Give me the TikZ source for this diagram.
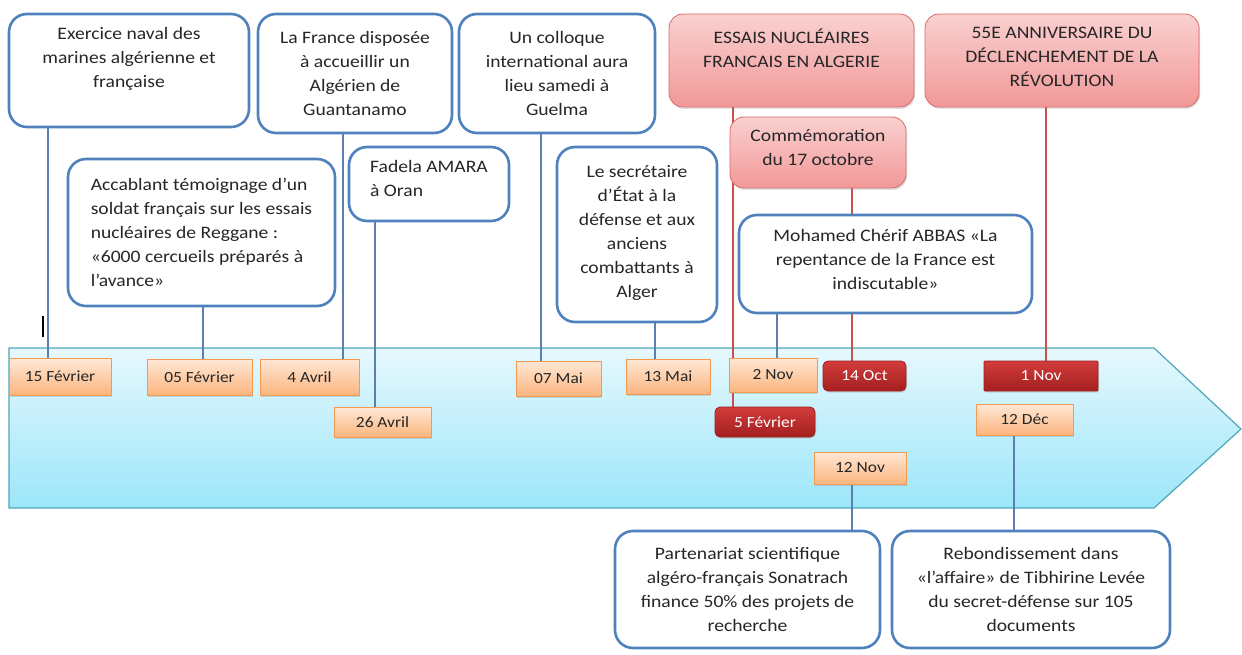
\documentclass[tikz,border=0pt]{standalone}
\usepackage{fontspec}
\setmainfont{Carlito}[FakeStretch=1.12]
\usetikzlibrary{shadows,calc}
\definecolor{bblue}{HTML}{4F81BD}
\definecolor{lblue}{HTML}{5A7FB0}
\definecolor{lred}{HTML}{C8504D}
\definecolor{txt}{HTML}{262626}
\definecolor{rtop}{HTML}{FAD0D0}
\definecolor{rbot}{HTML}{F29898}
\definecolor{rborder}{HTML}{D86A6A}
\definecolor{otop}{HTML}{FFE8D6}
\definecolor{obot}{HTML}{FBB57E}
\definecolor{oborder}{HTML}{F39A52}
\definecolor{drtop}{HTML}{D23C3C}
\definecolor{drbot}{HTML}{A41F1F}
\definecolor{bandtop}{HTML}{E6F8FD}
\definecolor{bandbot}{HTML}{9CE6FA}
\definecolor{bandline}{HTML}{4FA6B8}
\pgfdeclarelayer{bg}\pgfdeclarelayer{ln}
\pgfsetlayers{bg,ln,main}
\begin{document}
\begin{tikzpicture}[x=1pt,y=-1pt,
  bbox/.style={draw=bblue, line width=2.6pt, fill=white, rounded corners=18pt,
    align=center, inner sep=0pt, text=txt, font=\fontsize{17.5}{24}\selectfont},
  rbox/.style={draw=rborder, line width=0.8pt, top color=rtop, bottom color=rbot,
    rounded corners=14pt, align=center, inner sep=0pt, text=txt,
    font=\fontsize{17.5}{24}\selectfont,
    drop shadow={shadow xshift=1pt, shadow yshift=-2pt, opacity=0.25}},
  odate/.style={draw=oborder, line width=0.8pt, top color=otop, bottom color=obot,
    inner sep=0pt, text=txt, font=\fontsize{15.5}{18}\selectfont,
    drop shadow={shadow xshift=1pt, shadow yshift=-1.5pt, opacity=0.25}},
  rdate/.style={draw=drbot, line width=0.8pt, top color=drtop, bottom color=drbot,
    rounded corners=5pt, inner sep=0pt, text=white, font=\fontsize{15.5}{18}\selectfont,
    drop shadow={shadow xshift=1pt, shadow yshift=-1.5pt, opacity=0.25}},
  bl/.style={draw=lblue, line width=1.2pt},
  rl/.style={draw=lred, line width=1.2pt}]
\useasboundingbox (0,0) rectangle (1242,655);
% band
\begin{pgfonlayer}{bg}
\path[draw=bandline, line width=1.2pt, top color=bandtop, bottom color=bandbot]
  (9,348) -- (1154,348) -- (1241,429) -- (1154,508) -- (9,508) -- cycle;
\end{pgfonlayer}
% event boxes
\node[bbox, minimum width=240, minimum height=113] (b1) at (129,70.5)
  {Exercice naval des\\marines algérienne et\\française\\[-6pt]\strut};
\node[bbox, minimum width=194, minimum height=119] (b2) at (355,73.5)
  {La France disposée\\à accueillir un\\Algérien de\\Guantanamo};
\node[bbox, minimum width=267, minimum height=147, align=left] (b3) at (201.5,232.5)
  {Accablant témoignage d’un\\soldat français sur les essais\\nucléaires de Reggane :\\«6000 cercueils préparés à\\l’avance»};
\node[bbox, minimum width=160, minimum height=74, align=left] (b4) at (429,184)
  {Fadela AMARA\\à Oran\\[-20pt]\strut};
\node[bbox, minimum width=196, minimum height=119] (b5) at (557,73.5)
  {Un colloque\\international aura\\lieu samedi à\\Guelma};
\node[bbox, minimum width=160, minimum height=175] (b6) at (637,234.5)
  {Le secrétaire\\d’État à la\\défense et aux\\anciens\\combattants à\\Alger\\[-25pt]\strut};
\node[rbox, minimum width=245, minimum height=93] (r1) at (791.5,60.5)
  {ESSAIS NUCLÉAIRES\\FRANCAIS EN ALGERIE\\[-6pt]\strut};
\node[rbox, minimum width=176, minimum height=71] (r2) at (818,152.5)
  {Commémoration\\du 17 octobre\\[-21pt]\strut};
\node[bbox, minimum width=293, minimum height=98] (b7) at (885.5,264)
  {Mohamed Chérif ABBAS «La\\repentance de la France est\\indiscutable»\\[-23pt]\strut};
\node[rbox, minimum width=274, minimum height=93] (r3) at (1062,60.5)
  {55E ANNIVERSAIRE DU\\DÉCLENCHEMENT DE LA\\RÉVOLUTION\\[-24pt]\strut};
\node[bbox, minimum width=265, minimum height=117] (b8) at (747.5,589.5)
  {Partenariat scientifique\\algéro-français Sonatrach\\finance 50\% des projets de\\recherche};
\node[bbox, minimum width=278, minimum height=117] (b9) at (1031,589.5)
  {Rebondissement dans\\«l’affaire» de Tibhirine Levée\\du secret-défense sur 105\\documents};
% dates
\node[odate, minimum width=102, minimum height=37] (d1) at (60,376.5) {15 Février};
\node[odate, minimum width=105, minimum height=36] (d2) at (199.5,377) {05 Février};
\node[odate, minimum width=99, minimum height=36] (d3) at (309.5,377) {4 Avril};
\node[odate, minimum width=97, minimum height=30] (d4) at (382.5,422) {26 Avril};
\node[odate, minimum width=85, minimum height=35] (d5) at (558.5,378.5) {07 Mai};
\node[odate, minimum width=84, minimum height=35] (d6) at (668,376.5) {13 Mai};
\node[odate, minimum width=88, minimum height=34] (d7) at (773,375) {2 Nov};
\node[rdate, minimum width=100, minimum height=30] (d8) at (765,422) {5 Février};
\node[rdate, minimum width=83, minimum height=30] (d9) at (864.5,376) {14 Oct};
\node[rdate, minimum width=114, minimum height=30, rounded corners=1pt] (d10) at (1041,376) {1 Nov};
\node[odate, minimum width=97, minimum height=31] (d11) at (1024.5,419.5) {12 Déc};
\node[odate, minimum width=92, minimum height=32] (d12) at (860,468) {12 Nov};
% connectors
\begin{pgfonlayer}{ln}
\draw[bl] ([xshift=-12pt]d1.north) -- ([xshift=-12pt]d1.north |- b1.south);
\draw[bl] ([xshift=3.5pt]d2.north) -- ([xshift=3.5pt]d2.north |- b3.south);
\draw[bl] ([xshift=33.5pt]d3.north) -- ([xshift=33.5pt]d3.north |- b2.south);
\draw[bl] ([xshift=-7.5pt]d4.north) -- ([xshift=-7.5pt]d4.north |- b4.south);
\draw[bl] ([xshift=-17.5pt]d5.north) -- ([xshift=-17.5pt]d5.north |- b5.south);
\draw[bl] ([xshift=-13pt]d6.north) -- ([xshift=-13pt]d6.north |- b6.south);
\draw[rl] ([xshift=-32pt]d8.north) -- ([xshift=-32pt]d8.north |- r1.south);
\draw[bl] ([xshift=4pt]d7.north) -- ([xshift=4pt]d7.north |- b7.south);
\draw[rl] ([xshift=-12.5pt]d9.north) -- ([xshift=-12.5pt]d9.north |- r2.south);
\draw[rl] ([xshift=5pt]d10.north) -- ([xshift=5pt]d10.north |- r3.south);
\draw[bl] ([xshift=-8pt]d12.south) -- ([xshift=-8pt]d12.south |- b8.north);
\draw[bl] ([xshift=-10.5pt]d11.south) -- ([xshift=-10.5pt]d11.south |- b9.north);
\end{pgfonlayer}
% text cursor mark
\draw[line width=1.8pt] (43,316) -- (43,337);
\end{tikzpicture}
\end{document}
